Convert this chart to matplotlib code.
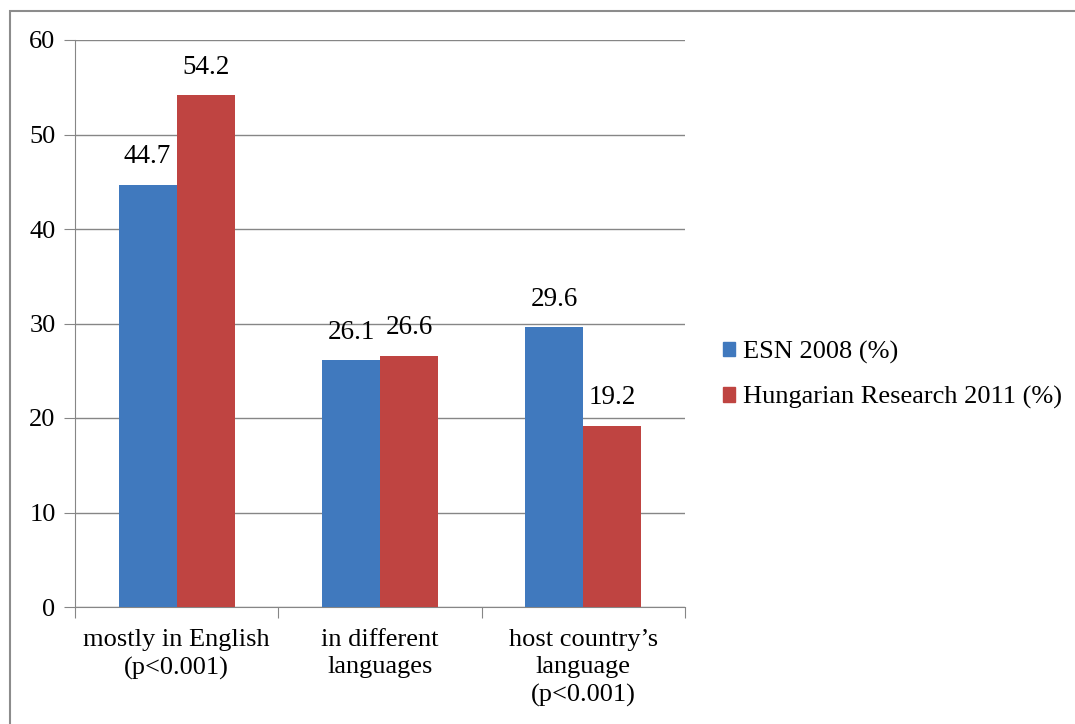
import matplotlib
matplotlib.use("Agg")
import matplotlib.pyplot as plt
import numpy as np
from matplotlib.patches import Rectangle

categories = ["mostly in English\n(p<0.001)", "in different\nlanguages", "host country\u2019s\nlanguage\n(p<0.001)"]
series_names = ["ESN 2008 (%)", "Hungarian Research 2011 (%)"]
esn_2008 = [44.7, 26.1, 29.6]
hungarian_2011 = [54.2, 26.6, 19.2]
y_ticks = [0, 10, 20, 30, 40, 50, 60]

colors = ["#4079BE", "#BF4441"]
plt.rcParams['font.family'] = ['Liberation Serif', 'DejaVu Serif']

W, H = 1075, 724
fig = plt.figure(figsize=(W/100, H/100), dpi=100)
# outer border
fig.patches.append(Rectangle((10/W, -0.1), 1.2, (H-11)/H + 0.1, transform=fig.transFigure,
                             fill=False, edgecolor="#8c8c8c", linewidth=1.5))

ax = fig.add_axes([75/W, 1-607/H, (685-75)/W, (607-40)/H])
x = np.arange(len(categories))
bw = 0.2857
for i, (vals, name) in enumerate([(esn_2008, series_names[0]), (hungarian_2011, series_names[1])]):
    pos = x + (i - 0.5) * bw
    ax.bar(pos, vals, width=bw, color=colors[i], label=name, zorder=3)
    for p, v in zip(pos, vals):
        ax.annotate(f"{v}", (p, v), xytext=(0, 11), textcoords="offset points",
                    ha="center", va="bottom", fontsize=19.5, color="black")

ax.set_xlim(-0.5, len(categories) - 0.5)
ax.set_ylim(0, 60)
ax.set_yticks(y_ticks)
ax.set_yticklabels([str(t) for t in y_ticks], fontsize=19)
ax.yaxis.grid(True, color="#868686", linewidth=1, zorder=0)
ax.set_axisbelow(True)
for s in ["top", "right"]:
    ax.spines[s].set_visible(False)
for s in ["left", "bottom"]:
    ax.spines[s].set_color("#868686")
ax.tick_params(axis="y", length=8, color="#868686", pad=6)
ax.set_xticks(np.arange(-0.5, len(categories), 1.0), minor=False)
ax.set_xticklabels([])
ax.tick_params(axis="x", length=8, color="#868686", direction="out")
for xi, c in zip(x, categories):
    ax.annotate(c, (xi, 0), xytext=(0, -16), textcoords="offset points",
                ha="center", va="top", fontsize=19, linespacing=1.3)

fig.legend(handles=[Rectangle((0, 0), 1, 1, color=colors[0]), Rectangle((0, 0), 1, 1, color=colors[1])],
           labels=series_names, loc="center left", bbox_to_anchor=(699/W, 1-375/H),
           frameon=False, fontsize=19, handlelength=0.45, handleheight=0.45,
           handletextpad=0.3, labelspacing=0.85)

fig.savefig("out.png", dpi=100)
